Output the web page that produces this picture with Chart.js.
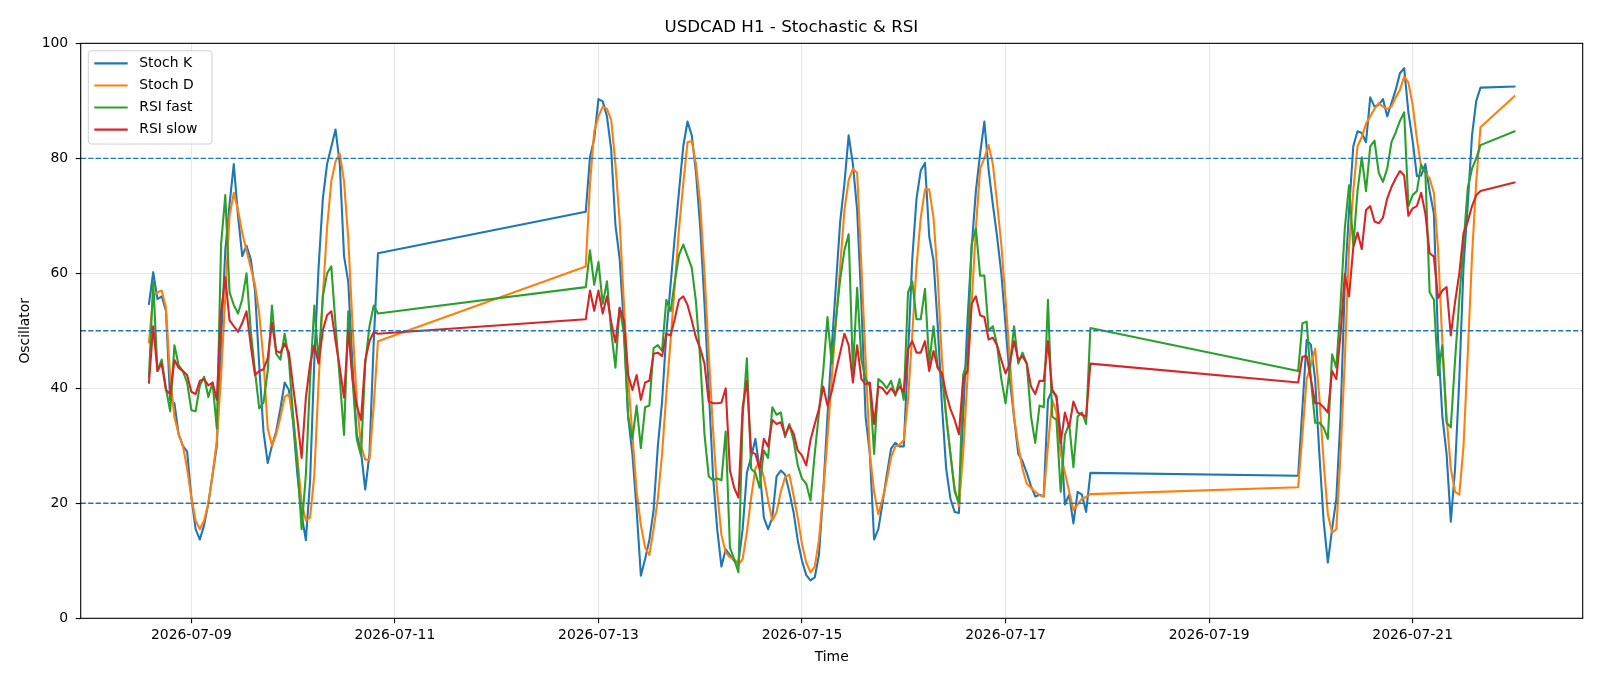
<!DOCTYPE html>
<html>
<head>
<meta charset="utf-8">
<script src="https://cdn.jsdelivr.net/npm/chart.js@4.4.1/dist/chart.umd.min.js"></script>
<style>
  html, body { margin: 0; padding: 0; background: #fff; }
</style>
</head>
<body>
<canvas id="osc" width="1600" height="686"></canvas>
<script>
// trading sessions: first hourly bar (UTC) and number of bars
const sessions = [
    ['2026-07-08T14:00', 55],
    ['2026-07-12T21:00', 120],
    ['2026-07-19T21:00', 44],
    ['2026-07-22T00:00', 1]
];

const stochK = [
    54.7, 60.2, 55.5, 56, 53.5, 38, 37.4, 32, 30, 29, 21, 15.5, 13.7, 16.2, 20, 25, 30, 48, 64, 72, 79, 70, 63, 64.8, 62.5, 57, 44,
    32.5, 27, 30, 32.5, 36.5, 41, 39.7, 34, 25, 18, 13.6, 24, 45, 61, 73, 79, 82, 85, 79, 63, 58.5, 44, 32, 29, 22.4, 28.6, 48, 63.5,
    70.7, 80.2, 83.4, 90.3, 89.9, 87.3, 81.5, 68.4, 62.5, 50.8, 35, 28.6, 18.8, 7.4, 10.3, 13.6, 18.8, 29.9, 37.7, 49.5, 58, 66.4, 74.3, 82.1, 86.4,
    84, 77.5, 68, 54.7, 40, 25, 15.5, 9, 12, 11, 10, 9.7, 15.5, 25.3, 28, 31.2, 26, 17.5, 15.5, 17.5, 24.7, 25.7, 25, 22,
    18.5, 13.5, 10, 7.5, 6.6, 7.1, 11, 22, 35, 47, 58, 69, 75.6, 84, 79, 71, 54.7, 35, 28.6, 13.7, 15.5, 20.1, 25,
    29.5, 30.5, 29.9, 29.9, 46, 62.5, 73, 77.9, 79.2, 66.4, 62.3, 51, 37, 26, 20.8, 18.5, 18.3, 35, 51.4, 64.5, 74.3, 80.8, 86.4, 78,
    72, 66.4, 60, 51, 41.6, 35, 28.6, 27.3, 25.3, 23, 21.2, 21.5, 21.2, 38, 39.7, 38.4, 32, 19.8, 21.5, 16.5, 22, 21.5, 18.5, 25.3,
    24.8, 36.5, 48.4, 47.6, 41.6, 28.6, 17, 9.7, 15.5, 20.8, 35.1, 58, 71, 82.1, 84.7, 84.4, 82.8, 90.6, 89, 89.3, 90.3, 87.3,
    89.6, 91.9, 94.8, 95.7, 88, 83, 76.9, 77, 79, 74.3, 70.4, 48.2, 35.1, 28.6, 16.8, 26, 41.6, 61.2, 72, 84, 90, 92.3,
    92.5
];

const stochD = [
    48, 56, 56.7, 57, 54, 42, 35, 32, 30, 26, 21, 17, 15.5, 17, 20, 25, 31, 42, 56, 70, 74, 71, 67, 64, 61, 58, 53,
    45, 33, 30, 32, 35, 38.5, 39, 35, 28, 20, 17, 17.5, 25, 41, 56, 68, 76, 79.5, 80.8, 76, 66, 51, 38, 30, 27.6, 27.6, 37, 48.2,
    61.2, 75.6, 84.7, 87.3, 89, 88.6, 86.7, 79, 69, 54.7, 41.6, 31.9, 22, 16.2, 12.3, 11, 15.5, 20.8, 28.6, 39, 48.2, 58, 67.8, 75.6, 82.8,
    83, 79, 72, 60, 46, 33, 22, 14.5, 11.5, 10.6, 10.3, 9.3, 10.3, 15, 21, 26, 27.3, 24.5, 20.5, 17, 18.5, 22, 24.5, 25,
    21.4, 17.5, 12.9, 9.7, 8, 9, 13.6, 22, 31.2, 41.6, 51.4, 61.2, 71, 76.2, 78.2, 77.5, 61.2, 44.9, 28.6, 22, 18.1, 20.8, 24,
    28, 29.9, 30.2, 31, 38, 49.5, 61.2, 69.7, 74.6, 74.6, 69.7, 59.3, 44.9, 35.1, 28.6, 22.7, 19.5, 28.6, 41.6, 54.7, 67.8, 78.2, 80, 82.3,
    79, 72.3, 65, 55.4, 45, 35, 30, 26, 23.4, 22.7, 22, 21.4, 21.2, 30, 38, 35.8, 28.6, 25.3, 22, 18.8, 19.8, 20.8, 21.1, 21.6,
    22.8, 31.9, 41.6, 44, 46.9, 38.4, 27.3, 18.1, 14.9, 15.5, 28.6, 44.9, 64.5, 74.3, 82.1, 83.7, 86, 87.3, 88.6, 89.6, 89, 88.6,
    89, 90.6, 91.9, 94.2, 93.2, 89.3, 83.4, 78.5, 77.5, 76.5, 74, 64, 48, 35, 26, 22, 21.5, 30, 46, 63, 76, 85.4,
    90.8
];

const rsiFast = [
    42, 58.5, 43, 45, 40, 36, 47.5, 44, 43, 41, 36.2, 36, 40.5, 42, 38.5, 41, 33, 65, 73.6, 56.7, 54.5, 53, 55.5, 60, 50, 43, 36.5,
    37.5, 43, 54.4, 46, 45, 49.5, 45, 35, 26.6, 15.5, 25, 41.6, 54.4, 44.5, 56, 60, 61.2, 51, 41.6, 31.9, 53.4, 41.6, 31.2, 28.3, 44.3, 50.8, 54.4, 53,
    57.6, 64, 58, 62, 54.7, 58.6, 50, 43.6, 54, 49.5, 35, 31.2, 37, 29.6, 36.7, 37, 47, 47.5, 46.5, 55.4, 53.4, 58.6, 63.2, 65, 63,
    61, 55, 45, 32, 24.7, 24, 24.3, 24, 32.5, 12.3, 10.3, 8, 35, 45.2, 26, 25.3, 22.7, 29.2, 27.9, 36.7, 35.4, 35.8, 31.5, 33.8,
    31, 26.6, 24.3, 23.4, 20.5, 28.6, 35.8, 43, 52.4, 44.3, 52, 59, 64, 66.8, 43, 57.5, 45, 41.6, 40.3, 28.6, 41.6, 41, 40,
    41.3, 38.7, 41.6, 38, 56.7, 58.6, 52, 52, 57.3, 44.3, 50.8, 43.6, 42.3, 35.1, 28.6, 22, 20.1, 42.3, 44.9, 65.1, 67.8, 59.6, 59.6, 50,
    50.8, 47.5, 41.6, 37.4, 43.6, 50.8, 44.3, 46.2, 44.3, 35.1, 30.5, 37, 36.7, 55.4, 35.1, 34.5, 22, 31.9, 33.8, 26.3, 35.1, 35.8, 33.8, 50.5,
    43, 51.3, 51.6, 41.6, 34, 34, 33.2, 31.2, 45.9, 43.6, 54.7, 67.8, 75.3, 64.8, 74.3, 80.2, 74.3, 82.1, 83.1, 77.5, 75.9, 78.2,
    82.8, 84.5, 86.5, 88, 71.7, 73.6, 74.3, 78.9, 77.5, 56.7, 55.4, 42.3, 47.5, 34, 33.2, 44.9, 55.4, 65.1, 74.9, 78.2, 80, 82.3,
    84.7
];

const rsiSlow = [
    41, 50.8, 43, 44.3, 39.7, 39, 44.9, 43.6, 43, 42.3, 39.4, 39, 41.3, 41.6, 40.5, 41, 38, 53.4, 59.3, 51.8, 50.8, 49.8, 51.4, 53.4, 47.5, 42.3, 43,
    43.3, 45.2, 51.4, 46.5, 46.2, 47.8, 46.2, 40.3, 34.5, 27.9, 38.4, 44.3, 47.5, 44.3, 50.1, 52.7, 53.4, 48.2, 43.6, 38.4, 50.1, 41.6, 37, 34.5, 44.9, 48.2, 49.8, 49.5,
    52, 57, 53.5, 57, 53, 56, 51.5, 48, 54, 51.8, 42.3, 39.7, 42.3, 38, 41, 41.3, 46, 46.2, 45.6, 49.5, 49.2, 52.1, 55.4, 56, 54.5,
    51.8, 48.8, 46.9, 44.3, 37.7, 37.4, 37.4, 37.5, 40, 25.7, 22.7, 21, 36.7, 41.3, 28.9, 28.6, 26, 31.2, 29.9, 34.5, 33.8, 34.1, 31.9, 33.5,
    32.2, 29.2, 28.3, 26.6, 31, 33.8, 36.4, 40.3, 37, 39.4, 43, 46.2, 49.5, 47.5, 41, 47.5, 41.6, 40.7, 41, 33.8, 40.3, 40, 39,
    40, 39, 40.3, 39.4, 46.9, 48.2, 46.2, 46.2, 48.2, 43, 46.5, 43.6, 42.6, 39, 36.4, 34.5, 32, 41.6, 43, 54.7, 56, 52.7, 52.4, 48.5,
    48.8, 47.5, 44.9, 42.6, 44.3, 48.2, 44.9, 45.6, 44.3, 40.3, 39, 41.3, 41.3, 48.2, 39.7, 38.7, 30.5, 35.8, 33.2, 37.7, 35.8, 35.4, 35.1, 44.3,
    41, 45.5, 45.6, 41.6, 37.4, 37.4, 36.7, 35.8, 43, 41.6, 49.5, 59.9, 56, 64.5, 67.1, 64.2, 71, 71.7, 69, 68.7, 69.7, 73,
    75, 76.5, 77.8, 77, 70, 71.3, 71.7, 74, 70.4, 63.5, 62.9, 55.7, 57, 57.6, 49.2, 55, 60, 67, 69, 71.7, 73.6, 74.3,
    75.8
];

const levels = [20, 50, 80];
const yTicks = [0, 20, 40, 60, 80, 100];
const xTickDays = ['2026-07-09', '2026-07-11', '2026-07-13', '2026-07-15', '2026-07-17', '2026-07-19', '2026-07-21'];

const FONT = 'DejaVu Sans';
const HOUR = 3600 * 1000;

// hourly timestamps for each session
const times = [];
sessions.forEach(([start, n]) => {
    const t0 = Date.parse(start + ':00Z');
    for (let i = 0; i < n; i++) times.push(t0 + i * HOUR);
});

const span = times[times.length - 1] - times[0];
const xMin = times[0] - span * 0.05;
const xMax = times[times.length - 1] + span * 0.05;

const toPoints = arr => arr.map((v, i) => ({ x: times[i], y: v }));

const series = [
    { label: 'Stoch K', data: stochK, color: '#1f77b4' },
    { label: 'Stoch D', data: stochD, color: '#ff7f0e' },
    { label: 'RSI fast', data: rsiFast, color: '#2ca02c' },
    { label: 'RSI slow', data: rsiSlow, color: '#d62728' }
];

// ---------------- PLUGINS ----------------

const levelLines = {
    id: 'levelLines',
    afterDatasetsDraw(chart) {
        const { ctx, chartArea: a, scales: { y } } = chart;
        ctx.save();
        ctx.strokeStyle = '#1f77b4';
        ctx.lineWidth = 1.4;
        ctx.setLineDash([5.2, 2.3]);
        levels.forEach(v => {
            const py = y.getPixelForValue(v);
            ctx.beginPath();
            ctx.moveTo(a.left, py);
            ctx.lineTo(a.right, py);
            ctx.stroke();
        });
        ctx.restore();
    }
};

const frame = {
    id: 'frame',
    afterDatasetsDraw(chart) {
        const { ctx, chartArea: a } = chart;
        ctx.save();
        ctx.strokeStyle = '#000';
        ctx.lineWidth = 1.1;
        ctx.strokeRect(a.left, a.top, a.right - a.left, a.bottom - a.top);
        ctx.restore();
    }
};

const legendBox = {
    id: 'legendBox',
    afterDraw(chart) {
        const { ctx, chartArea: a } = chart;
        const x = a.left + 7.6, y = a.top + 7.4, w = 123.7, h = 93.3, r = 3;
        ctx.save();
        ctx.beginPath();
        ctx.moveTo(x + r, y);
        ctx.arcTo(x + w, y, x + w, y + h, r);
        ctx.arcTo(x + w, y + h, x, y + h, r);
        ctx.arcTo(x, y + h, x, y, r);
        ctx.arcTo(x, y, x + w, y, r);
        ctx.closePath();
        ctx.fillStyle = 'rgba(255,255,255,0.8)';
        ctx.fill();
        ctx.strokeStyle = '#d0d0d0';
        ctx.lineWidth = 1;
        ctx.stroke();

        ctx.font = '13.9px "' + FONT + '"';
        ctx.textBaseline = 'middle';
        ctx.fillStyle = '#000';
        series.forEach((s, i) => {
            const ly = y + 12.6 + i * 22.1;
            ctx.strokeStyle = s.color;
            ctx.lineWidth = 2.1;
            ctx.beginPath();
            ctx.moveTo(x + 6, ly);
            ctx.lineTo(x + 39.4, ly);
            ctx.stroke();
            ctx.fillText(s.label, x + 51, ly);
        });
        ctx.restore();
    }
};

// ---------------- CHART ----------------

const ctx = document.getElementById('osc').getContext('2d');

new Chart(ctx, {
    type: 'line',
    data: {
        datasets: series.map((s, i) => ({
            label: s.label,
            data: toPoints(s.data),
            borderColor: s.color,
            backgroundColor: s.color,
            borderWidth: 2.1,
            pointRadius: 0,
            tension: 0,
            fill: false,
            borderJoinStyle: 'round',
            borderCapStyle: 'square',
            order: series.length - i
        }))
    },
    options: {
        responsive: false,
        animation: false,
        devicePixelRatio: 1,
        layout: { padding: { left: 0, right: 17.3, top: 0, bottom: 0 } },
        plugins: {
            legend: { display: false },
            tooltip: { enabled: false },
            title: {
                display: true,
                text: 'USDCAD H1 - Stochastic & RSI',
                color: '#000',
                font: { family: FONT, size: 16.7, weight: 'normal' },
                padding: { top: 17.5, bottom: 5.8 }
            }
        },
        scales: {
            x: {
                type: 'linear',
                min: xMin,
                max: xMax,
                afterBuildTicks: s => {
                    s.ticks = xTickDays.map(d => ({ value: Date.parse(d + 'T00:00:00Z') }));
                },
                afterFit: s => { s.height = 67.7; },
                ticks: {
                    autoSkip: false,
                    maxRotation: 0,
                    color: '#000',
                    padding: 4,
                    font: { family: FONT, size: 13.9 },
                    callback: v => new Date(v).toISOString().slice(0, 10)
                },
                grid: { color: '#e6e6e6', lineWidth: 1.1, tickColor: '#000', tickLength: 5, tickWidth: 1.1 },
                border: { display: false },
                title: {
                    display: true,
                    text: 'Time',
                    color: '#000',
                    font: { family: FONT, size: 13.9 },
                    padding: { top: 0, bottom: 19.8 }
                }
            },
            y: {
                min: 0,
                max: 100,
                afterBuildTicks: s => { s.ticks = yTicks.map(v => ({ value: v })); },
                afterFit: s => { s.width = 80.7; },
                ticks: {
                    color: '#000',
                    padding: 7.5,
                    font: { family: FONT, size: 13.9 }
                },
                grid: { color: '#e6e6e6', lineWidth: 1.1, tickColor: '#000', tickLength: 5, tickWidth: 1.1 },
                border: { display: false },
                title: {
                    display: true,
                    text: 'Oscillator',
                    color: '#000',
                    font: { family: FONT, size: 13.9 },
                    padding: { top: 17, bottom: 0 }
                }
            }
        }
    },
    plugins: [levelLines, frame, legendBox]
});
</script>
</body>
</html>
